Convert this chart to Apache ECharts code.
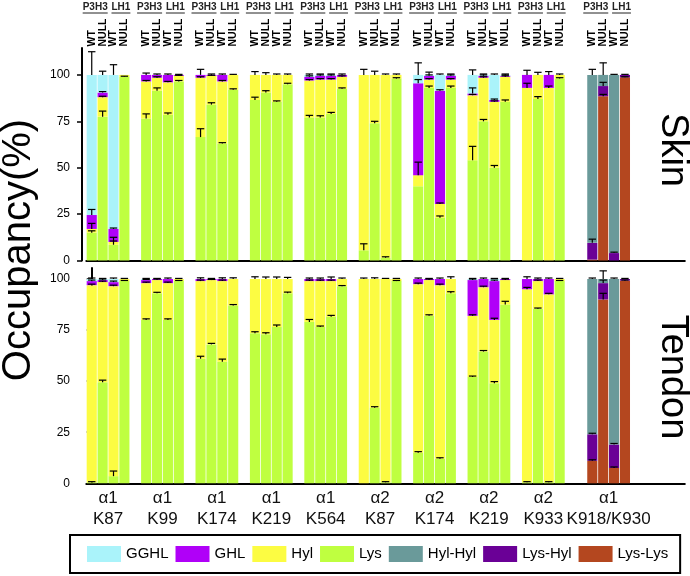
<!DOCTYPE html>
<html><head><meta charset="utf-8">
<script src="https://cdn.jsdelivr.net/npm/echarts@6/dist/echarts.min.js"></script>
<style>html,body{margin:0;padding:0;background:#fff}#c{width:690px;height:576px}</style>
</head><body><div id="c"></div>
<script>
// ---------- labels ----------
const groupLabels = ['α1\nK87','α1\nK99','α1\nK174','α1\nK219','α1\nK564','α2\nK87','α2\nK174','α2\nK219','α2\nK933','α1\nK918/K930'];
const barLabels = ['WT','NULL','WT','NULL'];
const geneLabels = ['P3H3','LH1'];
const yTicks = [0, 25, 50, 75, 100];

// ---------- Skin (groups 1-9, 4 bars each) ----------
const skinLys  = [15,77.5,8.5,99, 76.5,91.5,78.5,96.5, 66.5,84,63,92, 86.5,90.5,85.5,95, 77,77,79,92.5, 5.5,74,1.5,98, 40,93,23,93, 54,75,50,85.5, 0,87,0,98];
const skinHyl  = [2,10.5,1.5,1, 20,7,17.5,3, 32,15.5,33.5,8, 13.5,9.5,14.5,5, 20,20.5,18.5,6.5, 94.5,26,98.5,2, 6,4.5,7.5,4.5, 35,23.5,35.5,13.5, 93,13,93,2];
const skinGHL  = [7.5,2.5,7,0, 3.5,1.5,4,0.5, 1.5,0.5,3.5,0, 0,0,0,0, 2,2,2,1, 0,0,0,0, 49.5,2,61,2, 1,1,1,0.5, 7,0,7,0];
const skinGGHL = [75.5,9.5,83,0, 0,0,0,0, 0,0,0,0, 0,0,0,0, 1,0.5,0.5,0, 0,0,0,0, 4.5,0.5,8.5,0.5, 10,0.5,13.5,0.5, 0,0,0,0];
const skinLysErr  = [1,3,4,0.3, 2.5,1.5,1,0.5, 4.5,1,0.5,0.5, 1.5,1,0.5,0.5, 1.2,1,0.8,0.5, 3.5,1,0.5,0.5, 0,1,1,1, 7.5,1,1.2,1, 0,1.3,0,0.5];
const skinHylErr  = [3,0.5,0.5,0, 0.5,0.5,0.5,0.3, 0.5,0.3,0.5,0.3, 1.8,1.2,0.5,0.5, 0.5,0.5,0.5,0.5, 3,2,0.5,0.5, 7,0.5,0.5,0.5, 0.5,0.5,0.5,0.5, 2.5,1.4,1,0.5];
const skinGHLErr  = [3,0.5,0.5,0, 1,0.5,0.5,0.3, 3,0.5,0.5,0, 0,0,0,0, 0.5,0.5,0.5,0.5, 0,0,0,0, 2,0.5,0.5,0.5, 3,0.5,0.5,0.5, 2.5,0,1.8,0];
const skinGGHLErr = [12.5,2,5.5,0, 0,0,0,0, 0,0,0,0, 0,0,0,0, 0.5,0.5,0.5,0, 0,0,0,0, 6.5,1.5,0.5,0.5, 2.7,0.5,0.5,0.5, 0,0,0,0];
// Skin crosslinks (α1 K918/K930)
const skinLysLys = [0.5, 88.5, 0, 98.7];
const skinLysHyl = [9, 5.5, 4, 1.3];
const skinHylHyl = [90.5, 6, 96, 0];
const skinLysLysErr = [0, 1, 0, 0.3];
const skinLysHylErr = [2, 2, 0.5, 0.3];
const skinHylHylErr = [3, 6.5, 0.3, 0];

// ---------- Tendon ----------
const tenLys  = [0.5,49.5,3.5,99, 80,93,80,99, 61,68,59.5,87, 73.5,73,76.5,93, 79,76.5,81.5,96.5, 0,37,0.5,99, 15,82,12,93, 52,64.5,49,87.5, 0.5,85.5,0.5,99];
const tenHyl  = [96.5,49,93,1, 18,6.5,18,1, 38,31.5,39.5,13, 26.5,27,23.5,7, 20,22.5,17.5,3.5, 100,63,99.5,1, 82.5,17.5,85,7, 30,31.5,31,12, 94.5,13.5,92,1];
const tenGHL  = [2,1,2,0, 1.5,0.5,2,0, 1,0.5,1,0, 0,0,0,0, 1,1,1,0, 0,0,0,0, 2.5,0.5,3,0, 17.5,4,19,0.5, 5,1,7.5,0];
const tenGGHL = [1,0.5,1.5,0, 0.5,0,0,0, 0,0,0,0, 0,0,0,0, 0,0,0,0, 0,0,0,0, 0,0,0,0, 0.5,0,1,0, 0,0,0,0];
const tenLysErr  = [0.3,1,2.5,0.3, 0.5,0.5,0.5,0.3, 1.2,0.5,1.3,0.5, 0.7,0.7,1,0.6, 1.2,0.5,0.7,0.3, 0,0.5,0.3,0.3, 0.5,0.5,0.5,0.8, 0.5,0.5,0.8,1.6, 0.3,0.3,0.3,0.3];
const tenHylErr  = [0.5,0.5,0.5,0.3, 0.5,0.5,0.5,0.3, 0.5,0.3,0.5,0.6, 1.1,1,1,0.8, 0.5,0.5,0.5,0.5, 0.5,0.6,0.3,0.3, 0.5,0.5,0.5,1.1, 0.5,0.5,0.8,0.5, 0.9,0.5,0.5,0.3];
const tenGHLErr  = [0.5,0.5,0.5,0, 0.3,0.3,0.5,0, 0.6,0.3,0.6,0, 0,0,0,0, 0.5,0.5,1,0, 0,0,0,0, 0.5,0.3,0.5,0, 0.5,0.5,0.5,0.3, 1.1,0.5,0.5,0];
const tenGGHLErr = [0.5,0.3,0.5,0, 0.3,0,0,0, 0,0,0,0, 0,0,0,0, 0,0,0,0, 0,0,0,0, 0,0,0,0, 0.3,0,0.3,0, 0,0,0,0];
const tenLysLys = [11, 90, 7.5, 99.2];
const tenLysHyl = [13, 8, 11.5, 0.8];
const tenHylHyl = [76, 2, 81, 0];
const tenLysLysErr = [0.5, 3, 0.5, 0.3];
const tenLysHylErr = [0.5, 1.5, 0.5, 0.3];
const tenHylHylErr = [0.5, 4, 0.5, 0];

// ---------- layout helpers ----------
const NSLOT = 55;
function slotOf(g, b) { return g < 9 ? g * 5 + b : 46 + b; }
const slots = Array.from({length: NSLOT}, (_, i) => 's' + i);
const slotLabel = new Array(NSLOT).fill('');
for (let g = 0; g < 10; g++) for (let b = 0; b < 4; b++) slotLabel[slotOf(g, b)] = barLabels[b];
const groupCenters = groupLabels.map((_, g) => (slotOf(g, 1) + slotOf(g, 2)) / 2);

function toSlots(vals, crossGroup) {
  const a = new Array(NSLOT).fill(0);
  vals.forEach((v, i) => {
    const g = crossGroup ? 9 : Math.floor(i / 4);
    a[slotOf(g, i % 4)] = v;
  });
  return a;
}
function errData(segs, crossGroup) {
  const out = [];
  const n = segs[0][0].length;
  for (let i = 0; i < n; i++) {
    let cum = 0;
    const g = crossGroup ? 9 : Math.floor(i / 4);
    segs.forEach(([vals, errs]) => {
      cum += vals[i];
      if (vals[i] > 0 && errs[i] > 0) out.push([slotOf(g, i % 4), cum, cum + errs[i]]);
    });
  }
  return out;
}

const COLORS = {GGHL:'#aaf3fa', GHL:'#b000f8', Hyl:'#fcfc42', Lys:'#bfff40', 'Hyl-Hyl':'#6a9a9a', 'Lys-Hyl':'#6a0096', 'Lys-Lys':'#b4471f'};
const FONT = 'Liberation Sans, Arial, sans-serif';

function renderErr(params, api) {
  const x = api.value(0), lo = api.value(1), hi = api.value(2);
  const p0 = api.coord([x, lo]), p1 = api.coord([x, hi]);
  const hw = api.size([1, 0])[0] * 0.34;
  const st = {stroke: '#000', lineWidth: 1.2};
  return {type: 'group', children: [
    {type: 'line', shape: {x1: p0[0], y1: p0[1], x2: p1[0], y2: p1[1]}, style: st},
    {type: 'line', shape: {x1: p1[0] - hw, y1: p1[1], x2: p1[0] + hw, y2: p1[1]}, style: st}
  ]};
}

const measureCtx = document.createElement('canvas').getContext('2d');
const HEAD_FONT = 'bold 10px ' + FONT;
measureCtx.font = HEAD_FONT;
function renderHead(params, api) {
  const a = api.value(0), b = api.value(1), k = api.value(2);
  const x = (api.coord([a, 0])[0] + api.coord([b, 0])[0]) / 2 + (k === 0 ? -2 : 2);
  const y = params.coordSys.y - 40.5;
  const txt = geneLabels[k];
  const w = measureCtx.measureText(txt).width;
  return {type: 'group', children: [
    {type: 'text', x: x, y: y, style: {text: txt, font: HEAD_FONT, fill: '#222', align: 'center', verticalAlign: 'middle'}},
    {type: 'line', shape: {x1: x - w / 2, y1: y + 5.5, x2: x + w / 2, y2: y + 5.5}, style: {stroke: '#222', lineWidth: 1}}
  ]};
}
const headData = [];
for (let g = 0; g < 10; g++) {
  headData.push([slotOf(g, 0), slotOf(g, 1), 0]);
  headData.push([slotOf(g, 2), slotOf(g, 3), 1]);
}

function panelSeries(p, d) {
  const xi = p === 0 ? 0 : 2, yi = p;
  const stack = 'st' + p;
  const mk = (name, vals, cross) => ({
    type: 'bar', name: name, xAxisIndex: xi, yAxisIndex: yi, stack: stack,
    data: toSlots(vals, cross), barCategoryGap: '7%',
    itemStyle: {color: COLORS[name]}, animation: false
  });
  const list = [
    mk('Lys', d.lys), mk('Hyl', d.hyl), mk('GHL', d.ghl), mk('GGHL', d.gghl),
    mk('Lys-Lys', d.ll, true), mk('Lys-Hyl', d.lh, true), mk('Hyl-Hyl', d.hh, true)
  ];
  const errs = errData([[d.lys, d.eLys], [d.hyl, d.eHyl], [d.ghl, d.eGHL], [d.gghl, d.eGGHL]], false)
    .concat(errData([[d.ll, d.eLL], [d.lh, d.eLH], [d.hh, d.eHH]], true));
  list.push({type: 'custom', name: 'err' + p, xAxisIndex: xi, yAxisIndex: yi, renderItem: renderErr,
    data: errs, encode: {x: 0, y: [1, 2]}, z: 5, animation: false, silent: true});
  return list;
}

const series = []
  .concat(panelSeries(0, {lys: skinLys, hyl: skinHyl, ghl: skinGHL, gghl: skinGGHL,
    eLys: skinLysErr, eHyl: skinHylErr, eGHL: skinGHLErr, eGGHL: skinGGHLErr,
    ll: skinLysLys, lh: skinLysHyl, hh: skinHylHyl, eLL: skinLysLysErr, eLH: skinLysHylErr, eHH: skinHylHylErr}))
  .concat(panelSeries(1, {lys: tenLys, hyl: tenHyl, ghl: tenGHL, gghl: tenGGHL,
    eLys: tenLysErr, eHyl: tenHylErr, eGHL: tenGHLErr, eGGHL: tenGGHLErr,
    ll: tenLysLys, lh: tenLysHyl, hh: tenHylHyl, eLL: tenLysLysErr, eLH: tenLysHylErr, eHH: tenHylHylErr}));
series.push({type: 'custom', name: 'head', xAxisIndex: 1, yAxisIndex: 0, renderItem: renderHead,
  data: headData, encode: {x: [0, 1], y: 2}, z: 5, animation: false, silent: true, clip: false});

const axisLineStyle = {show: true, lineStyle: {color: '#000', width: 2}};
function yAxis(grid, max) {
  return {gridIndex: grid, type: 'value', min: 0, max: max, offset: 4.3,
    axisLine: axisLineStyle,
    axisTick: {show: true, length: 5, lineStyle: {color: '#000', width: 1.5}, customValues: yTicks},
    axisLabel: {customValues: yTicks, margin: 12, fontSize: 12, color: '#000', fontFamily: FONT},
    splitLine: {show: false}};
}

const option = {
  animation: false,
  textStyle: {fontFamily: FONT},
  grid: [
    {left: 86.3, width: 598.5, top: 48, height: 212.5},
    {left: 86.3, width: 598.5, top: 268, height: 215.3}
  ],
  xAxis: [
    {gridIndex: 0, type: 'category', data: slots, position: 'bottom', axisLine: axisLineStyle,
      axisTick: {show: false}, axisLabel: {show: false}},
    {gridIndex: 0, type: 'category', data: slots, position: 'top', axisLine: {show: false},
      axisTick: {show: false},
      axisLabel: {show: true, interval: 0, rotate: -90, margin: 1.5, fontSize: 10.5, fontWeight: 'bold',
        color: '#000', fontFamily: FONT, formatter: (v, i) => slotLabel[i]}},
    {gridIndex: 1, type: 'category', data: slots, position: 'bottom', axisLine: axisLineStyle,
      axisTick: {show: false}, axisLabel: {show: false}},
    {gridIndex: 1, type: 'value', min: -0.5, max: NSLOT - 0.5, position: 'bottom',
      axisLine: {show: false}, axisTick: {show: false}, splitLine: {show: false},
      axisLabel: {customValues: groupCenters, margin: 5, fontSize: 17, lineHeight: 21, color: '#111',
        fontFamily: FONT, formatter: (v) => { const i = groupCenters.indexOf(v); return i >= 0 ? groupLabels[i] : ''; }}}
  ],
  yAxis: [yAxis(0, 114.5), yAxis(1, 105.4)],
  legend: {
    data: ['GGHL', 'GHL', 'Hyl', 'Lys', 'Hyl-Hyl', 'Lys-Hyl', 'Lys-Lys'],
    left: 70, top: 535, orient: 'horizontal', icon: 'rect',
    itemWidth: 34, itemHeight: 16, itemGap: 7,
    padding: [11, 12, 11, 17], borderColor: '#000', borderWidth: 2,
    textStyle: {fontSize: 15, color: '#000', fontFamily: FONT},
    selectedMode: false
  },
  graphic: [
    {type: 'text', x: 19, y: 250, rotation: Math.PI / 2,
      style: {text: 'Occupancy(%)', fontSize: 40, fontFamily: FONT, fill: '#000', align: 'center', verticalAlign: 'middle'}},
    {type: 'text', x: 672.5, y: 150, rotation: -Math.PI / 2,
      style: {text: 'Skin', fontSize: 38, fontFamily: FONT, fill: '#000', align: 'center', verticalAlign: 'middle'}},
    {type: 'text', x: 672.5, y: 377, rotation: -Math.PI / 2,
      style: {text: 'Tendon', fontSize: 38, fontFamily: FONT, fill: '#000', align: 'center', verticalAlign: 'middle'}}
  ],
  series: series
};
const chart = echarts.init(document.getElementById('c'), null, {renderer: 'canvas'});
chart.setOption(option);
</script></body></html>
